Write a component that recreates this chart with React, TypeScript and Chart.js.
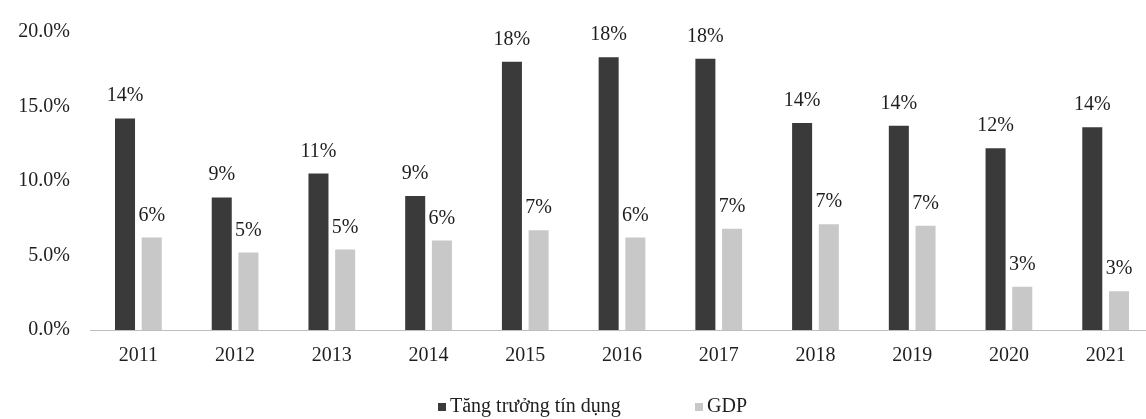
import React, { useEffect, useRef } from "react";
import { Chart, registerables } from "chart.js";

Chart.register(...registerables);

const years = ["2011", "2012", "2013", "2014", "2015", "2016", "2017", "2018", "2019", "2020", "2021"];
const creditGrowth = [14.2, 8.9, 10.5, 9.0, 18.0, 18.3, 18.2, 13.9, 13.7, 12.2, 13.6];
const gdpGrowth = [6.2, 5.2, 5.4, 6.0, 6.7, 6.2, 6.8, 7.1, 7.0, 2.9, 2.6];
const seriesNames = ["Tăng trưởng tín dụng", "GDP"];
const yTicks = [0, 5, 10, 15, 20];

const FONT = "'Liberation Serif', 'Times New Roman', serif";
const TEXT = "#1e1e1e";

const valueLabels = {
  id: "valueLabels",
  afterDatasetsDraw(chart: any) {
    const ctx = chart.ctx;
    ctx.save();
    ctx.font = `20px ${FONT}`;
    ctx.fillStyle = TEXT;
    ctx.textAlign = "center";
    ctx.textBaseline = "alphabetic";
    chart.data.datasets.forEach((ds: any, di: number) => {
      const meta = chart.getDatasetMeta(di);
      meta.data.forEach((bar: any, i: number) => {
        const v = ds.data[i];
        ctx.fillText(Math.round(v) + "%", bar.x, bar.y - 17);
      });
    });
    ctx.restore();
  },
};

const customLegend = {
  id: "customLegend",
  afterDraw(chart: any) {
    const ctx = chart.ctx;
    const starts = [438, 695];
    const y = 407;
    ctx.save();
    ctx.font = `20px ${FONT}`;
    ctx.textBaseline = "middle";
    ctx.textAlign = "left";
    chart.data.datasets.forEach((ds: any, i: number) => {
      const x = starts[i];
      ctx.fillStyle = ds.backgroundColor;
      ctx.fillRect(x, y - 4, 8, 8);
      ctx.fillStyle = TEXT;
      ctx.fillText(ds.label, x + 12, y);
    });
    ctx.restore();
  },
};

export default function App() {
  const ref = useRef<HTMLCanvasElement | null>(null);
  useEffect(() => {
    if (!ref.current) return;
    const chart = new Chart(ref.current, {
      type: "bar",
      data: {
        labels: years,
        datasets: [
          {
            label: seriesNames[0],
            data: creditGrowth,
            backgroundColor: "#3a3a3a",
            categoryPercentage: 0.552,
            barPercentage: 0.75,
          },
          {
            label: seriesNames[1],
            data: gdpGrowth,
            backgroundColor: "#c8c8c8",
            categoryPercentage: 0.552,
            barPercentage: 0.75,
          },
        ],
      },
      options: {
        responsive: false,
        animation: false,
        layout: { padding: { top: 23, right: 6, left: 0, bottom: 0 } },
        plugins: {
          legend: { display: false },
          tooltip: { enabled: false },
          title: { display: false },
        },
        scales: {
          x: {
            grid: { display: false, drawTicks: false },
            border: { display: true, color: "#bdbdbd", width: 1, dash: [2, 2] },
            ticks: { color: TEXT, font: { family: FONT, size: 20 }, padding: 14 },
            afterFit: (s: any) => {
              s.height = 89;
            },
          },
          y: {
            min: 0,
            max: 20,
            grid: { display: false, drawTicks: false },
            border: { display: false },
            afterBuildTicks: (s: any) => {
              s.ticks = yTicks.map((v) => ({ value: v }));
            },
            ticks: {
              color: TEXT,
              font: { family: FONT, size: 20 },
              padding: 20,
              callback: (v: any) => Number(v).toFixed(1) + "%",
            },
            afterFit: (s: any) => {
              s.width = 90;
            },
          },
        },
      },
      plugins: [valueLabels, customLegend],
    });
    return () => chart.destroy();
  }, []);

  return (
    <div style={{ position: "absolute", left: 0, top: 0, width: 1146, height: 419, overflow: "hidden", background: "#fff" }}>
      <canvas ref={ref} width={1160} height={419} style={{ display: "block" }} />
    </div>
  );
}
